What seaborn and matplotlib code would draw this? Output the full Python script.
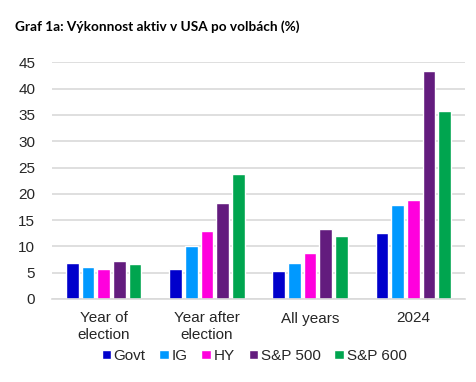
import pandas as pd
import matplotlib
matplotlib.use('Agg')
import matplotlib.pyplot as plt
import seaborn as sns

# Data
periods = ['Year of\nelection', 'Year after\nelection', 'All years', '2024']
assets = ['Govt', 'IG', 'HY', 'S&P 500', 'S&P 600']
govt = [6.8, 5.7, 5.4, 12.5]
ig = [6.0, 10.1, 6.8, 17.8]
hy = [5.7, 13.0, 8.7, 18.8]
sp500 = [7.3, 18.2, 13.4, 43.4]
sp600 = [6.6, 23.7, 11.9, 35.8]
colors = ['#0000CC', '#0099FF', '#FF00DD', '#631C7E', '#00A54F']

rows = []
for asset, vals in zip(assets, [govt, ig, hy, sp500, sp600]):
    for period, v in zip(periods, vals):
        rows.append({'period': period, 'asset': asset, 'value': v})
df = pd.DataFrame(rows)

sns.set_style('white')
plt.rcParams['font.family'] = ['Liberation Sans', 'DejaVu Sans']

fig = plt.figure(figsize=(4.77, 3.82), dpi=100)
ax = fig.add_axes([52 / 477, 1 - 299 / 382, 413 / 477, 236.7 / 382])

sns.barplot(data=df, x='period', y='value', hue='asset', order=periods,
            hue_order=assets, palette=colors, width=0.76, gap=0.19,
            saturation=1, ax=ax, legend=True)

ax.set_ylim(0, 45)
ax.set_yticks(range(0, 46, 5))
ax.set_xlim(-0.5, 3.5)
ax.yaxis.grid(True, color='#D9D9D9', linewidth=1.2)
ax.set_axisbelow(True)
for s in ['top', 'right', 'left']:
    ax.spines[s].set_visible(False)
ax.spines['bottom'].set_color('#D9D9D9')
ax.spines['bottom'].set_linewidth(1.2)
ax.tick_params(axis='both', length=0, labelsize=11, colors='#262626')
ax.tick_params(axis='y', pad=12)
ax.tick_params(axis='x', pad=9)
ax.set_xlabel('')
ax.set_ylabel('')

leg = ax.legend(loc='center', bbox_to_anchor=(254 / 477, 1 - 356 / 382),
                bbox_transform=fig.transFigure, ncol=5,
                frameon=False, fontsize=11, handlelength=0.6, handleheight=0.6,
                handletextpad=0.2, columnspacing=0.9, labelcolor='#262626')

fig.text(15 / 477, 1 - 27 / 382, 'Graf 1a: Výkonnost aktiv v USA po volbách (%)',
         fontsize=9.8, fontweight='bold', family=['Lato', 'DejaVu Sans'],
         va='center', ha='left', color='black')

fig.savefig('out.png', dpi=100)
